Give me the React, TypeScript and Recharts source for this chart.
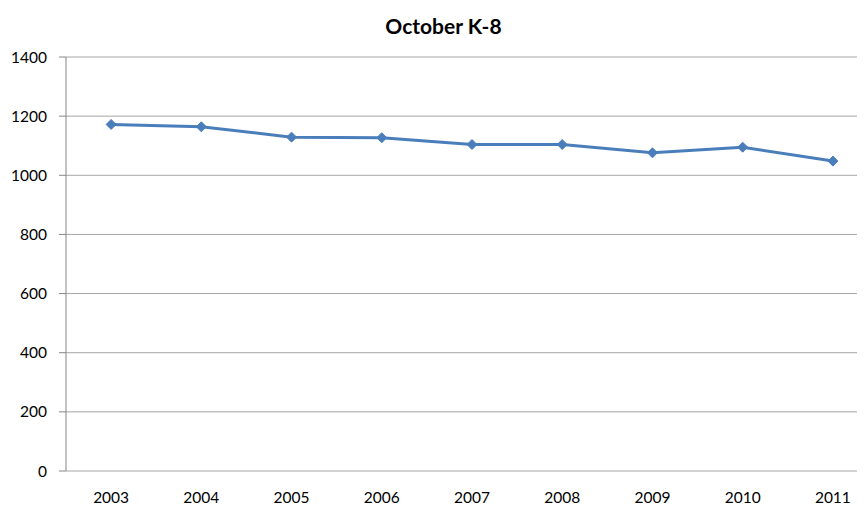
import React from "react";
import { LineChart, Line, XAxis, YAxis, CartesianGrid } from "recharts";

const years = [2003, 2004, 2005, 2006, 2007, 2008, 2009, 2010, 2011];
const enrollment = [1172, 1164, 1129, 1127, 1104, 1104, 1076, 1095, 1048];
const yTicks = [0, 200, 400, 600, 800, 1000, 1200, 1400];
const bandEdges = [2002.5, 2003.5, 2004.5, 2005.5, 2006.5, 2007.5, 2008.5, 2009.5, 2010.5, 2011.5];

const data = years.map((y, i) => ({ year: y, value: enrollment[i] }));

const FONT = "Lato, 'Open Sans', sans-serif";
const BLUE = "#4a7ebb";

const Diamond = (props: any) => {
  const { cx, cy } = props;
  if (cx == null || cy == null) return null;
  const r = 5;
  return (
    <polygon
      points={`${cx},${cy - r} ${cx + r},${cy} ${cx},${cy + r} ${cx - r},${cy}`}
      fill={BLUE}
      stroke={BLUE}
      strokeWidth={1}
    />
  );
};

export default function App() {
  return (
    <div style={{ position: "relative", width: 857, height: 500, overflow: "hidden", fontFamily: FONT }}>
      <div
        style={{
          position: "absolute",
          left: 0,
          width: 871,
          top: 5,
          textAlign: "center",
          fontWeight: 700,
          fontSize: 21,
          color: "#000",
          lineHeight: "26px",
        }}
      >
        October K-8
      </div>
      <LineChart
        width={890}
        height={500}
        data={data}
        margin={{ top: 49, right: 20, left: 0, bottom: 0 }}
      >
        <CartesianGrid horizontal={true} vertical={false} stroke="#a6a6a6" strokeWidth={1} />
        <XAxis
          xAxisId="edges"
          dataKey="year"
          type="number"
          domain={[2002.5, 2011.5]}
          ticks={bandEdges}
          height={0}
          axisLine={{ stroke: "#868686" }}
          tickLine={{ stroke: "#868686" }}
          tickSize={6}
          tickFormatter={() => ""}
          allowDataOverflow
        />
        <XAxis
          xAxisId="labels"
          dataKey="year"
          type="number"
          domain={[2002.5, 2011.5]}
          ticks={years}
          height={37}
          axisLine={false}
          tickLine={false}
          tickSize={0}
          tickMargin={21}
          tick={{ fill: "#000", fontSize: 15.5, fontFamily: FONT }}
          allowDataOverflow
        />
        <YAxis
          type="number"
          domain={[0, 1400]}
          ticks={yTicks}
          width={58}
          axisLine={{ stroke: "#868686" }}
          tickLine={{ stroke: "#868686" }}
          tickSize={7}
          tickMargin={12}
          tick={{ fill: "#000", fontSize: 15.5, fontFamily: FONT }}
          interval={0}
        />
        <Line
          xAxisId="labels"
          dataKey="value"
          stroke={BLUE}
          strokeWidth={3}
          dot={<Diamond />}
          activeDot={false}
          isAnimationActive={false}
        />
      </LineChart>
    </div>
  );
}
